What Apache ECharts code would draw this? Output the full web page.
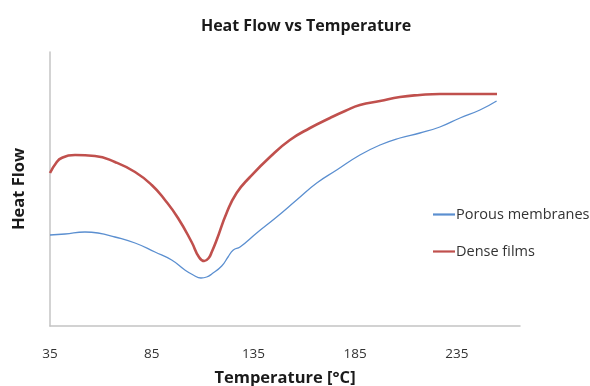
<!DOCTYPE html>
<html>
<head>
<meta charset="utf-8">
<script src="https://cdn.jsdelivr.net/npm/echarts@6/dist/echarts.min.js"></script>
<style>
  html, body { margin: 0; padding: 0; background: #fff; }
  #main { width: 590px; height: 386px; }
</style>
</head>
<body>
<div id="main"></div>
<script>
  // values (heat flow in arbitrary units)
  var tempTicks = [35, 85, 135, 185, 235];

  var porousT = [35, 42.4, 52.2, 58.6, 66.9, 76.8, 86.6, 94.8, 101.3, 105.4, 109.2, 112.0, 114.5, 119.4, 122.5, 125.1, 128.4, 136.6, 146.4, 156.2, 166.1, 175.9, 187.3, 197.2, 207.0, 216.8, 226.6, 236.5, 246.3, 254.5];
  var porousHF = [0.91, 0.92, 0.94, 0.93, 0.89, 0.83, 0.74, 0.66, 0.56, 0.51, 0.48, 0.49, 0.52, 0.60, 0.69, 0.76, 0.79, 0.93, 1.09, 1.26, 1.43, 1.56, 1.71, 1.81, 1.88, 1.93, 1.99, 2.08, 2.16, 2.25];

  var denseT = [35, 38.0, 40.7, 47.3, 57.1, 66.9, 76.8, 85.0, 91.5, 97.9, 104.6, 108.2, 110.8, 113.0, 114.5, 116.9, 121.8, 126.7, 133.3, 143.1, 152.9, 162.8, 172.6, 180.0, 187.3, 197.2, 207.0, 216.8, 226.6, 236.5, 254.7];
  var denseHF = [1.53, 1.63, 1.68, 1.71, 1.70, 1.64, 1.54, 1.41, 1.26, 1.08, 0.84, 0.69, 0.65, 0.68, 0.74, 0.86, 1.13, 1.33, 1.49, 1.69, 1.86, 1.98, 2.08, 2.15, 2.21, 2.25, 2.29, 2.31, 2.32, 2.32, 2.32];

  function pairs(xs, ys) {
    var out = [];
    for (var i = 0; i < xs.length; i++) {
      out.push([xs[i], ys[i]]);
    }
    return out;
  }

  var font = '"Open Sans", sans-serif';
  var chart = echarts.init(document.getElementById('main'));

  var option = {
    animation: false,
    backgroundColor: '#fff',
    title: {
      text: 'Heat Flow vs Temperature',
      left: 301,
      textAlign: 'center',
      top: 13,
      textStyle: { fontFamily: font, fontWeight: 'bold', fontSize: 16, color: '#1a1a1a' }
    },
    legend: {
      orient: 'vertical',
      left: 428,
      top: 202,
      itemGap: 22,
      itemWidth: 22,
      itemHeight: 2.2,
      textStyle: { fontFamily: font, fontSize: 14.5, color: '#333', padding: [0, 0, 0, -4] },
      data: [
        { name: 'Porous membranes', icon: 'rect' },
        { name: 'Dense films', icon: 'rect' }
      ]
    },
    grid: { left: 50, right: 70, top: 52, bottom: 60, outerBoundsMode: 'none' },
    xAxis: {
      type: 'value',
      min: 35,
      max: 266,
      name: 'Temperature [°C]',
      nameLocation: 'middle',
      nameGap: 44,
      nameTextStyle: { fontFamily: font, fontWeight: 'bold', fontSize: 16.5, color: '#1a1a1a' },
      axisLine: { lineStyle: { color: '#c4c4c4', width: 1.5 } },
      axisTick: { show: false },
      splitLine: { show: false },
      axisLabel: {
        customValues: tempTicks,
        margin: 21,
        fontFamily: font,
        fontSize: 13.5,
        color: '#333'
      }
    },
    yAxis: {
      type: 'value',
      min: 0,
      max: 2.74,
      name: 'Heat Flow',
      nameLocation: 'middle',
      nameGap: 22,
      nameRotate: 90,
      nameTextStyle: { fontFamily: font, fontWeight: 'bold', fontSize: 16.5, color: '#1a1a1a' },
      axisLine: { show: true, lineStyle: { color: '#c4c4c4', width: 1.5 } },
      axisTick: { show: false },
      axisLabel: { show: false },
      splitLine: { show: false }
    },
    series: [
      {
        name: 'Porous membranes',
        type: 'line',
        data: pairs(porousT, porousHF),
        symbol: 'none',
        smooth: 0.5,
        color: '#5b8fd0',
        lineStyle: { color: '#5b8fd0', width: 1.3 }
      },
      {
        name: 'Dense films',
        type: 'line',
        data: pairs(denseT, denseHF),
        symbol: 'none',
        smooth: 0.5,
        color: '#c0504d',
        lineStyle: { color: '#c0504d', width: 2.6 }
      }
    ]
  };

  chart.setOption(option);
</script>
</body>
</html>
